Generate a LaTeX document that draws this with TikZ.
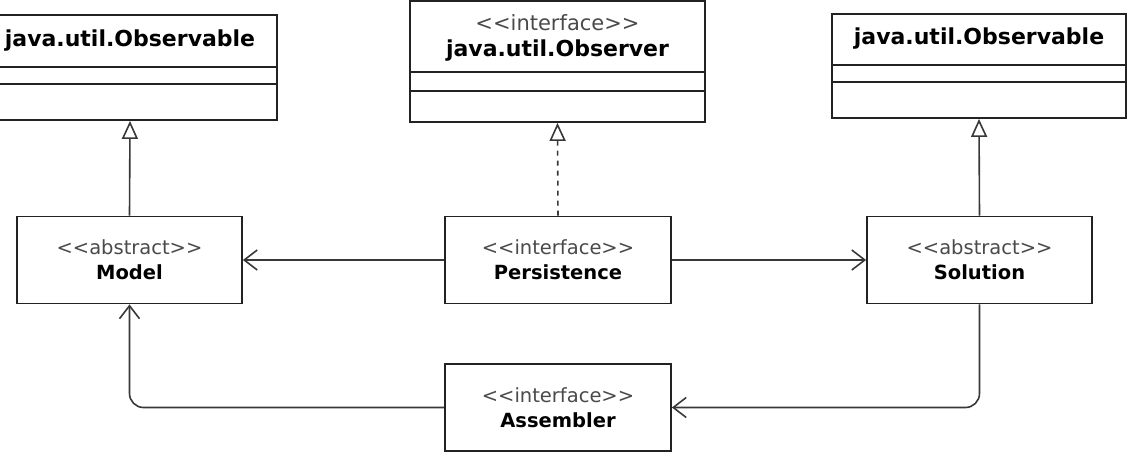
\documentclass[tikz,border=0pt]{standalone}
\usepackage{fontspec}
\setmainfont{DejaVu Sans}[Ligatures=TeXOff]
\usetikzlibrary{arrows.meta}
\definecolor{boxline}{HTML}{222222}
\definecolor{connline}{HTML}{383838}
\definecolor{stereo}{HTML}{4A4A4A}
\begin{document}
\begin{tikzpicture}[x=1pt,y=-1pt,
  cls/.style={draw=boxline, line width=1.8pt, fill=white, inner sep=0pt, align=center,
    font=\fontsize{19.5}{25}\selectfont},
  divider/.style={draw=boxline, line width=1.8pt},
  titletext/.style={inner sep=0pt, align=center, font=\fontsize{22}{27}\selectfont\bfseries},
  conn/.style={draw=connline, line width=1.6pt},
  gen/.style={conn, -{Triangle[open, length=18pt, width=16pt, fill=white]}},
  real/.style={gen, dash pattern=on 5pt off 5pt},
  assoc/.style={conn, -{Straight Barb[length=13pt, width=20pt]}},
  elbow/.style={assoc, rounded corners=14pt}
]
\useasboundingbox (0,0) rectangle (1128,457);
\clip (0,0) rectangle (1128,457);

% top-left Observable
\node[cls, minimum width=294pt, minimum height=105pt] (obsL) at (130,67.5) {};
\node[titletext] (obsLt) at (130,41) {java.util.Observable};
\draw[divider] (obsL.west |- 0,67) -- (obsL.east |- 0,67);
\draw[divider] (obsL.west |- 0,84) -- (obsL.east |- 0,84);

% top-middle Observer
\node[cls, minimum width=295pt, minimum height=121pt] (obsM) at (557.5,61.5) {};
\node[titletext] (obsMt) at (557.5,38) {{\mdseries\fontsize{21}{26}\selectfont\color{stereo}<<interface>>}\\[-1pt]java.util.Observer};
\draw[divider] (obsM.west |- 0,72) -- (obsM.east |- 0,72);
\draw[divider] (obsM.west |- 0,91) -- (obsM.east |- 0,91);

% top-right Observable
\node[cls, minimum width=294pt, minimum height=104pt] (obsR) at (979,66) {};
\node[titletext] (obsRt) at (979,39) {java.util.Observable};
\draw[divider] (obsR.west |- 0,65) -- (obsR.east |- 0,65);
\draw[divider] (obsR.west |- 0,82) -- (obsR.east |- 0,82);

% middle row
\node[cls, minimum width=225pt, minimum height=87pt] (M) at (129.5,260)
  {{\color{stereo}<<abstract>>}\\{\bfseries Model}};
\node[cls, minimum width=226pt, minimum height=87pt] (P) at (558,260)
  {{\color{stereo}<<interface>>}\\{\bfseries Persistence}};
\node[cls, minimum width=225pt, minimum height=87pt] (S) at (979.5,260)
  {{\color{stereo}<<abstract>>}\\{\bfseries Solution}};

% bottom
\node[cls, minimum width=226pt, minimum height=87pt] (A) at (558,407.5)
  {{\color{stereo}<<interface>>}\\{\bfseries Assembler}};

% connectors
\draw[gen] (M.north) -- (obsL.south);
\draw[real] (P.north) -- (obsM.south);
\draw[gen] (S.north) -- (obsR.south);
\draw[assoc] (P.west) -- (M.east);
\draw[assoc] (P.east) -- (S.west);
\draw[elbow] (A.west) -| (M.south);
\draw[elbow] (S.south) |- (A.east);
\end{tikzpicture}
\end{document}
